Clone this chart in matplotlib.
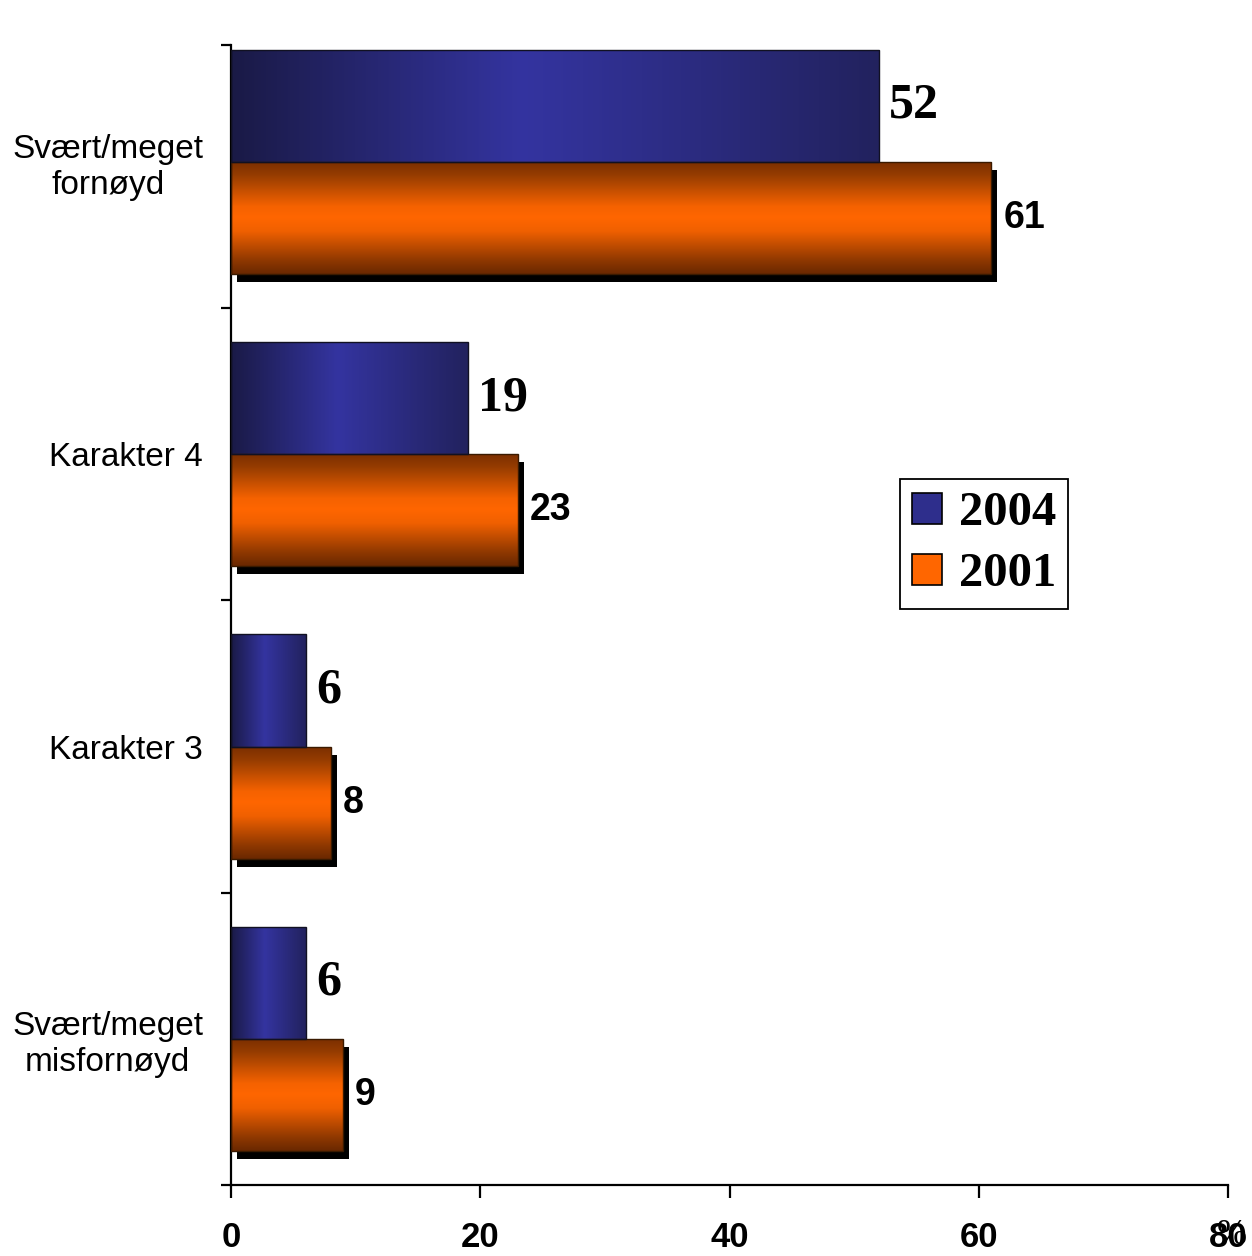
import numpy as np
import matplotlib
matplotlib.use('Agg')
import matplotlib.pyplot as plt
from matplotlib.colors import LinearSegmentedColormap
from matplotlib.patches import Patch
from matplotlib.transforms import offset_copy

# Data
categories = ['Svært/meget\nfornøyd', 'Karakter 4', 'Karakter 3', 'Svært/meget\nmisfornøyd']
values_2004 = [52, 19, 6, 6]
values_2001 = [61, 23, 8, 9]
series_names = ['2004', '2001']
xticks = [0, 20, 40, 60, 80]

blue_cmap = LinearSegmentedColormap.from_list(
    'blue', [(0, '#1a1a46'), (0.45, '#3434a0'), (1, '#22225e')])
orange_cmap = LinearSegmentedColormap.from_list(
    'orange', [(0, '#7a2e00'), (0.12, '#953c00'), (0.4, '#f56200'), (0.5, '#ff6600'),
               (0.62, '#f06000'), (0.88, '#8f3800'), (1, '#6a2800')])

fig = plt.figure(figsize=(12.52, 12.56), dpi=100)
ax = fig.add_axes([0.1845, 0.0565, 0.7965, 0.9077])

y = np.arange(len(categories))
h = 0.384

# shadow behind the 2001 bars
shadow_tr = offset_copy(ax.transData, fig=fig, x=6, y=-8, units='dots')
ax.barh(y + h / 2, values_2001, height=h, color='black', transform=shadow_tr, zorder=1)

bars_2001 = ax.barh(y + h / 2, values_2001, height=h, color='none',
                    edgecolor='#3a1a00', linewidth=1.0, zorder=3)
bars_2004 = ax.barh(y - h / 2, values_2004, height=h, color='none',
                    edgecolor='#111122', linewidth=1.0, zorder=3)

grad_h = np.linspace(0, 1, 256).reshape(1, -1)
grad_v = np.linspace(0, 1, 256).reshape(-1, 1)
for bar in bars_2004:
    x0, y0 = bar.get_x(), bar.get_y()
    im = ax.imshow(grad_h, cmap=blue_cmap, aspect='auto', origin='lower',
                   extent=(x0, x0 + bar.get_width(), y0, y0 + bar.get_height()), zorder=2)
    im.set_clip_path(bar)
for bar in bars_2001:
    x0, y0 = bar.get_x(), bar.get_y()
    im = ax.imshow(grad_v, cmap=orange_cmap, aspect='auto', origin='lower',
                   extent=(x0, x0 + bar.get_width(), y0, y0 + bar.get_height()), zorder=2)
    im.set_clip_path(bar)

# value labels
for i, v in enumerate(values_2004):
    ax.text(v + 0.8, y[i] - h / 2, str(v), va='center', ha='left',
            fontsize=36, fontweight='bold', family='Liberation Serif', zorder=4)
for i, v in enumerate(values_2001):
    ax.text(v + 0.95, y[i] + h / 2, str(v), va='center', ha='left',
            fontsize=27, fontweight='bold', family='Liberation Sans', zorder=4)

ax.set_xlim(0, 80)
ax.set_ylim(3.5, -0.4)

for s in ['top', 'right']:
    ax.spines[s].set_visible(False)
for s in ['left', 'bottom']:
    ax.spines[s].set_linewidth(1.6)

ax.set_xticks(xticks)
ax.set_xticklabels([str(t) for t in xticks], fontsize=25, fontweight='bold',
                   family='Liberation Sans')
ax.tick_params(axis='x', direction='out', length=9, width=1.6, pad=17)

ax.set_yticks(y)
ax.set_yticklabels(categories, fontsize=24, family='Liberation Sans',
                   multialignment='center')
ax.set_yticks([-0.4, 0.5, 1.5, 2.5, 3.5], minor=True)
ax.tick_params(axis='y', which='major', length=0, pad=20)
ax.tick_params(axis='y', which='minor', direction='out', length=7, width=1.6)

fig.text(0.984, 0.016, '%', fontsize=26, family='Liberation Serif',
         ha='center', va='center')

handles = [Patch(facecolor='#2e2e8c', edgecolor='black', linewidth=1.2),
           Patch(facecolor='#ff6600', edgecolor='black', linewidth=1.2)]
leg = ax.legend(handles, series_names, loc='center',
                bbox_to_anchor=(0.786, 0.567), bbox_transform=fig.transFigure,
                prop={'family': 'Liberation Serif', 'weight': 'bold', 'size': 35},
                handlelength=0.6, handleheight=0.6, handletextpad=0.35,
                labelspacing=0.35, borderpad=0.25, fancybox=False, framealpha=1)
leg.get_frame().set_edgecolor('black')
leg.get_frame().set_linewidth(1.3)

fig.savefig('out.png', dpi=100)
